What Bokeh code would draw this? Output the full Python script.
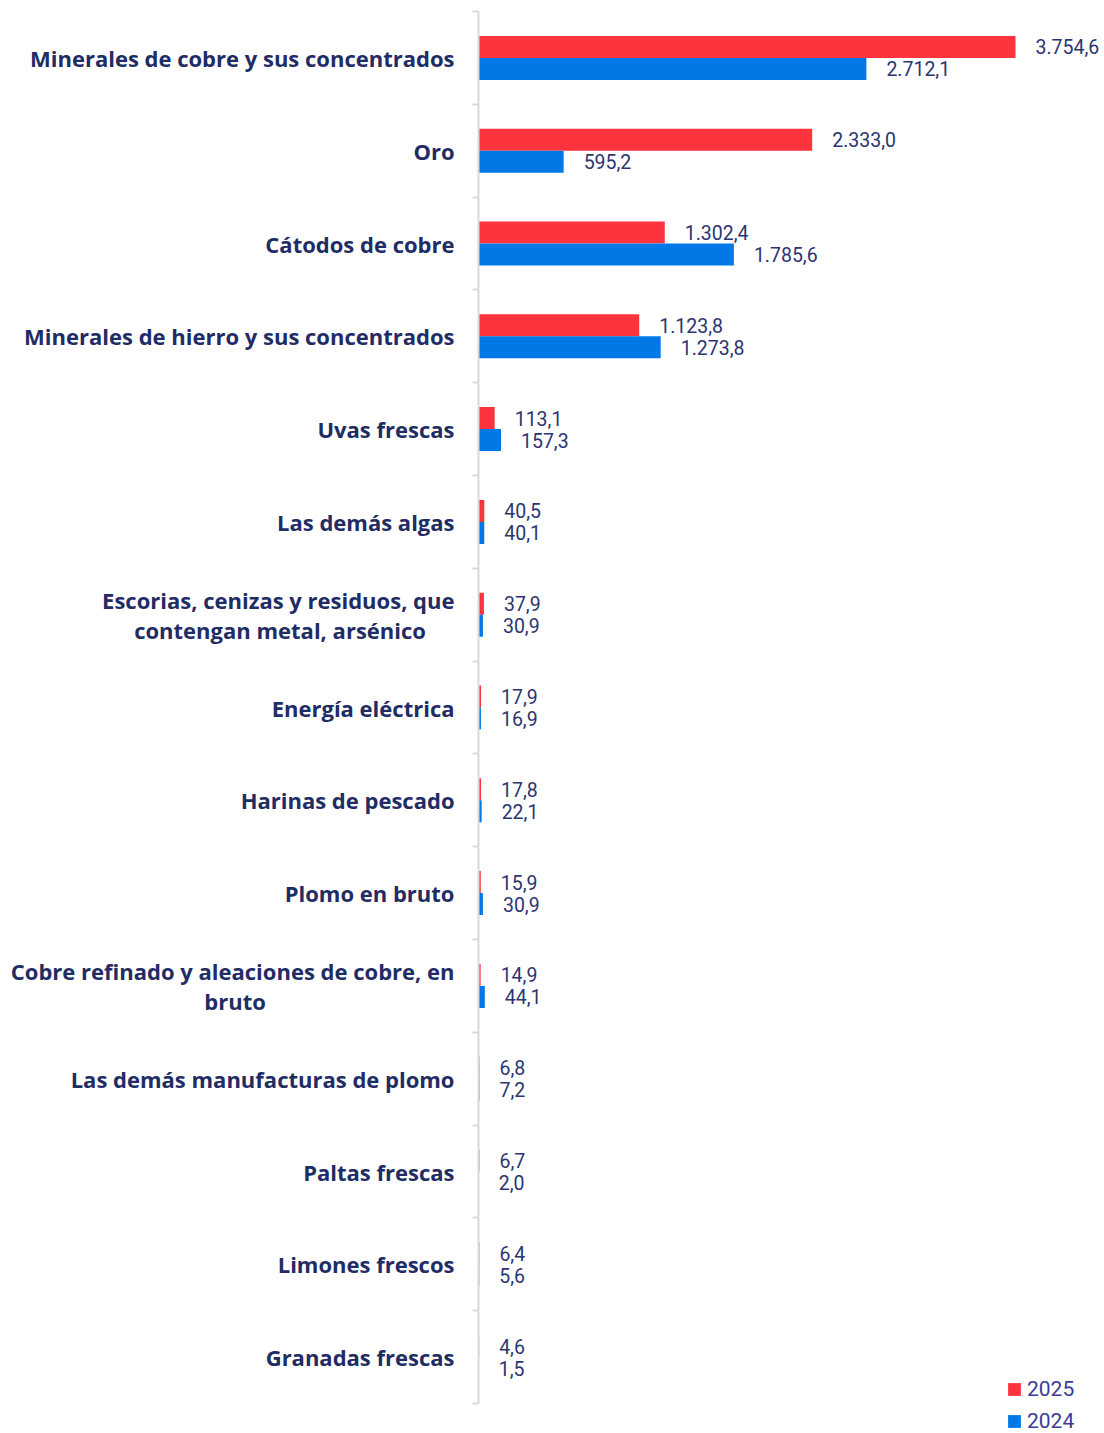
from bokeh.plotting import figure
from bokeh.models import Range1d, FixedTicker, Legend, LegendItem, ColumnDataSource
from bokeh.transform import dodge
from bokeh.core.properties import value
from bokeh.embed import file_html
from bokeh.resources import INLINE

NB = "\u00a0"
categories = [
    "Minerales de cobre y sus concentrados",
    "Oro",
    "Cátodos de cobre",
    "Minerales de hierro y sus concentrados",
    "Uvas frescas",
    "Las demás algas",
    "Escorias, cenizas y residuos, que\ncontengan metal, arsénico" + NB * 5,
    "Energía eléctrica",
    "Harinas de pescado",
    "Plomo en bruto",
    "Cobre refinado y aleaciones de cobre, en\nbruto" + NB * 33,
    "Las demás manufacturas de plomo",
    "Paltas frescas",
    "Limones frescos",
    "Granadas frescas",
]
v2025 = [3754.6, 2333.0, 1302.4, 1123.8, 113.1, 40.5, 37.9, 17.9, 17.8, 15.9, 14.9, 6.8, 6.7, 6.4, 4.6]
v2024 = [2712.1, 595.2, 1785.6, 1273.8, 157.3, 40.1, 30.9, 16.9, 22.1, 30.9, 44.1, 7.2, 2.0, 5.6, 1.5]
series_names = ["2025", "2024"]

RED = "#FD333D"
BLUE = "#0078E6"
NAVY = "#222C64"
VAL = "#2B3570"
LEG = "#3A3C98"
CAT_FONT = "Open Sans"
VAL_FONT = "Roboto"


def fmt(v):
    s = f"{v:,.1f}"
    return s.replace(",", "X").replace(".", ",").replace("X", ".")


idx = list(range(len(categories)))
src = ColumnDataSource(dict(
    y=idx, v25=v2025, v24=v2024,
    l25=[fmt(v) for v in v2025], l24=[fmt(v) for v in v2024],
))

n = len(categories)
H = 1433
TOP = 11
ROW = 92.8
frame_h = H - TOP
p = figure(width=1104, height=H, output_backend="svg", toolbar_location=None,
           x_range=Range1d(0, 4377), y_range=Range1d(-0.5 + frame_h / ROW, -0.5),
           min_border_left=478, min_border_right=0, min_border_top=TOP, min_border_bottom=0)
p.outline_line_color = None
p.xgrid.visible = False
p.ygrid.visible = False
p.xaxis.visible = False

yax = p.yaxis[0]
yax.bounds = (-0.5, n - 0.5)
yax.ticker = FixedTicker(ticks=idx, minor_ticks=[i - 0.5 for i in range(n + 1)])
yax.major_label_overrides = {i: c for i, c in enumerate(categories)}
yax.axis_line_color = "#D9D9D9"
yax.axis_line_width = 2
yax.minor_tick_line_color = "#D9D9D9"
yax.minor_tick_line_width = 2
yax.minor_tick_out = 6
yax.minor_tick_in = 0
yax.major_tick_line_color = None
yax.major_tick_out = 0
yax.major_tick_in = 0
yax.major_label_standoff = 18
yax.major_label_text_font = CAT_FONT
yax.major_label_text_font_size = "22px"
yax.major_label_text_font_style = "bold"
yax.major_label_text_color = NAVY
yax.major_label_text_line_height = 1.0

off = 0.1185
h = 0.237
r25 = p.hbar(y=dodge("y", -off, range=p.y_range), left=0, right="v25", height=h,
             source=src, fill_color=RED, line_color=None)
r24 = p.hbar(y=dodge("y", off, range=p.y_range), left=0, right="v24", height=h,
             source=src, fill_color=BLUE, line_color=None)

p.text(x="v25", y=dodge("y", -off, range=p.y_range), text="l25", source=src,
       x_offset=20, text_align="left", text_baseline="middle",
       text_font=value(VAL_FONT), text_font_size="19.5px", text_color=VAL)
p.text(x="v24", y=dodge("y", off, range=p.y_range), text="l24", source=src,
       x_offset=20, text_align="left", text_baseline="middle",
       text_font=value(VAL_FONT), text_font_size="19.5px", text_color=VAL)

legend = Legend(items=[LegendItem(label=series_names[0], renderers=[r25]),
                       LegendItem(label=series_names[1], renderers=[r24])],
                location=(528, 0), orientation="vertical")
legend.glyph_width = 16
legend.glyph_height = 16
legend.label_text_font = VAL_FONT
legend.label_text_font_size = "21px"
legend.label_text_color = LEG
legend.label_standoff = 5
legend.label_height = 20
legend.spacing = 8
legend.padding = 0
legend.margin = 0
legend.border_line_color = None
legend.background_fill_alpha = 0
p.add_layout(legend, "center")

open("out.html", "w").write(file_html(p, INLINE))
